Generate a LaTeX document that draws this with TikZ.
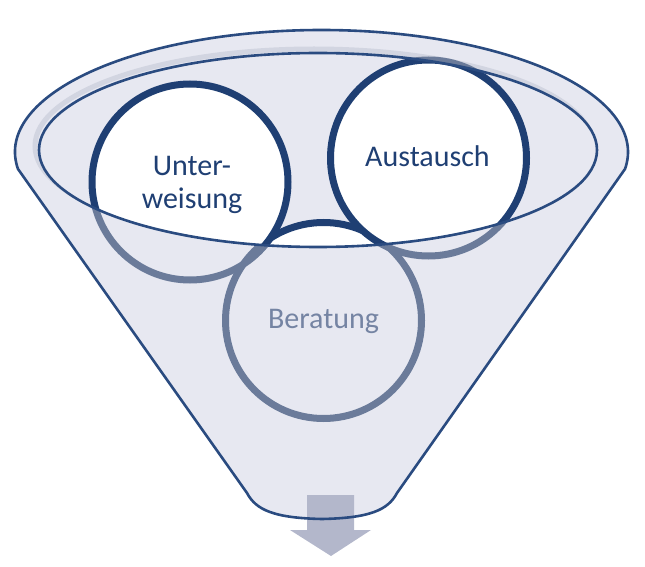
\documentclass[tikz,border=0pt]{standalone}
\usepackage{fontspec}
\setmainfont{Carlito}
\usetikzlibrary{calc}
\definecolor{navy}{HTML}{1F3F73}
\definecolor{rim}{HTML}{2A4B80}
\definecolor{ghost}{HTML}{6B7B9A}
\definecolor{funnelfill}{HTML}{E7E8F1}
\definecolor{mouthshadow}{HTML}{D2D5E1}
\definecolor{spout}{HTML}{B3B7CB}
\definecolor{softtext}{HTML}{7584A3}
\tikzset{
  ring/.style    = {line width=7pt},
  rimline/.style = {draw=rim, line width=2.6pt, line join=round},
  lbl/.style     = {align=center, font=\fontsize{30}{33}\selectfont, text=navy},
  softlbl/.style = {lbl, text=softtext}
}

\begin{document}
\begin{tikzpicture}[x=1pt,y=1pt]
  \useasboundingbox (0,0) rectangle (645,566);
  \coordinate (top)   at (321.5,414);
  \coordinate (inner) at (318,416);
  \coordinate (unter) at (190,384);
  \coordinate (aust)  at (428.5,408);
  \coordinate (berat) at (323.5,245.5);
  \coordinate (botR)  at (397,73);
  \coordinate (botL)  at (247,73);
  \coordinate (bot)   at (322,47);
  % funnel body
  \path[fill=funnelfill] ($(top)+(188:306.5 and 122)$) coordinate (kinkL)
    arc[start angle=188, end angle=-8, x radius=306.5, y radius=122] coordinate (kinkR)
    -- (botR) .. controls +(-9,-17) and +(48,1) .. (bot)
    .. controls +(-48,1) and +(9,-17) .. (botL) -- cycle;
  \draw[draw=mouthshadow, line width=5pt] ($(inner)+(-4,4)$) ellipse[x radius=279, y radius=97];
  % rings seen through the funnel
  \foreach \c in {berat,unter,aust}
    \draw[ring, ghost] (\c) circle[radius=98];
  % rings inside the mouth
  \begin{scope}
    \clip (inner) ellipse[x radius=279, y radius=97];
    \fill[funnelfill] (inner) ellipse[x radius=279, y radius=97];
    \foreach \c in {berat,unter,aust}
      \draw[ring, navy, fill=white] (\c) circle[radius=98];
  \end{scope}
  \draw[rimline] (inner) ellipse[x radius=279, y radius=97];
  % outlet arrow
  \fill[spout] (307,71) -- (354,71) -- (354,36) -- (371,36) -- (331,10)
    -- (290,36) -- (307,36) -- cycle;
  \draw[rimline] (kinkL)
    arc[start angle=188, end angle=-8, x radius=306.5, y radius=122]
    -- (botR) .. controls +(-9,-17) and +(48,1) .. (bot)
    .. controls +(-48,1) and +(9,-17) .. (botL) -- cycle;
  \node[lbl] (unterlbl) at (192,381) {Unter-\\weisung};
  \node[lbl] (austlbl) at (427.5,409.5) {Austausch};
  \node[softlbl] (beratlbl) at (323.5,245) {Beratung};
\end{tikzpicture}
\end{document}
